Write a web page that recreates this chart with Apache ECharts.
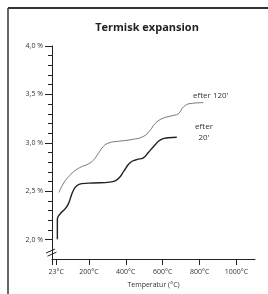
<!DOCTYPE html>
<html>
<head>
<meta charset="utf-8">
<script src="https://cdn.jsdelivr.net/npm/echarts@6/dist/echarts.min.js"></script>
<style>
  html, body { margin: 0; padding: 0; background: #fff; }
  #chart { width: 268px; height: 294px; }
</style>
</head>
<body>
<div id="chart"></div>
<script>
// temperatur (°C), längd ökning (%)
var after120 = [
  [38, 2.488], [65, 2.59], [95, 2.66], [125, 2.713], [161, 2.754],
  [197, 2.782], [224, 2.82], [251, 2.89], [278, 2.962], [310, 3.0],
  [360, 3.016], [423, 3.031], [495, 3.066], [531, 3.128], [558, 3.197],
  [595, 3.249], [650, 3.28], [685, 3.302], [712, 3.370], [748, 3.405],
  [820, 3.415]
];
var after20 = [
  [29, 2.004], [29, 2.21], [43, 2.264], [70, 2.316], [88, 2.367],
  [101, 2.436], [115, 2.505], [134, 2.557], [161, 2.578], [224, 2.585],
  [314, 2.594], [359, 2.63], [390, 2.71], [423, 2.795], [459, 2.827],
  [495, 2.845], [522, 2.90], [552, 2.965], [588, 3.03], [630, 3.052],
  [676, 3.058]
];
var yMajor = [2.0, 2.5, 3.0, 3.5, 4.0];
var yMinor = [2.1, 2.2, 2.3, 2.4, 2.6, 2.7, 2.8, 2.9, 3.1, 3.2, 3.3, 3.4, 3.6, 3.7, 3.8, 3.9];
var xTicks = [0, 23, 200, 400, 600, 800, 1000];
var xLabels = [23, 200, 400, 600, 800, 1000];

var font = "'Open Sans', 'Noto Sans', sans-serif";
var chart = echarts.init(document.getElementById("chart"));

var option = {
  animation: false,
  title: {
    text: "Termisk expansion",
    left: 142,
    top: 17,
    textAlign: "center",
    textStyle: { fontFamily: font, fontSize: 11, fontWeight: "bold", color: "#222" },
  },
  grid: { left: 52, right: 13, top: 46, bottom: 35 },
  xAxis: {
    type: "value",
    min: 0,
    max: 1100,
    name: "Temperatur (°C)",
    nameLocation: "middle",
    nameGap: 22,
    nameTextStyle: { fontFamily: font, fontSize: 7, color: "#333" },
    splitLine: { show: false },
    axisLine: { lineStyle: { color: "#222", width: 1 } },
    axisTick: { customValues: xTicks, length: 6, lineStyle: { color: "#222" } },
    axisLabel: {
      customValues: xLabels,
      margin: 9,
      fontFamily: font,
      fontSize: 7,
      color: "#333",
      formatter: function (v) { return v + "°C"; },
    },
  },
  yAxis: [
    {
      type: "value",
      min: 1.8,
      max: 4.0,
      splitLine: { show: false },
      axisLine: { show: true, lineStyle: { color: "#222", width: 1 } },
      axisTick: { customValues: yMajor, length: 7, lineStyle: { color: "#222" } },
      axisLabel: {
        customValues: yMajor,
        margin: 9,
        fontFamily: font,
        fontSize: 7,
        color: "#333",
        formatter: function (v) { return v.toFixed(1).replace(".", ",") + " %"; },
      },
    },
    {
      type: "value",
      min: 1.8,
      max: 4.0,
      position: "left",
      splitLine: { show: false },
      axisLine: { show: false },
      axisTick: { show: true, customValues: yMinor, length: 4, lineStyle: { color: "#222" } },
      axisLabel: { show: false },
    },
  ],
  series: [
    {
      name: "efter 120'",
      type: "line",
      data: after120,
      smooth: 0.5,
      showSymbol: false,
      lineStyle: { color: "#555", width: 0.8 },
    },
    {
      name: "efter 20'",
      type: "line",
      data: after20,
      smooth: 0.5,
      showSymbol: false,
      lineStyle: { color: "#222", width: 1.4 },
    },
  ],
};
chart.setOption(option);

// ram, axelbrott och etiketter
var ax = chart.convertToPixel({ xAxisIndex: 0 }, 0);
var yHi = chart.convertToPixel({ yAxisIndex: 0 }, 1.882);
var yLo = chart.convertToPixel({ yAxisIndex: 0 }, 1.85);
var lineC = { stroke: "#222", lineWidth: 1 };
chart.setOption({
  graphic: [
    { type: "line", shape: { x1: 8, y1: 8, x2: 268, y2: 8 }, style: { stroke: "#333", lineWidth: 2 } },
    { type: "line", shape: { x1: 8, y1: 8, x2: 8, y2: 294 }, style: { stroke: "#333", lineWidth: 1.5 } },
    { type: "rect", shape: { x: ax - 2, y: yHi - 1, width: 4, height: yLo - yHi + 2 }, style: { fill: "#fff" } },
    { type: "line", shape: { x1: ax - 6, y1: yHi + 2, x2: ax + 3, y2: yHi - 2 }, style: lineC },
    { type: "line", shape: { x1: ax - 4.5, y1: yLo + 2, x2: ax + 4.5, y2: yLo - 2 }, style: lineC },
    { type: "text", left: 193, top: 92, style: { text: "efter 120'", font: "8px " + font, fill: "#333" } },
    { type: "text", x: 204, y: 121, style: { text: "efter\n20'", font: "8px " + font, fill: "#333", align: "center", lineHeight: 11 } },
  ],
});
</script>
</body>
</html>
